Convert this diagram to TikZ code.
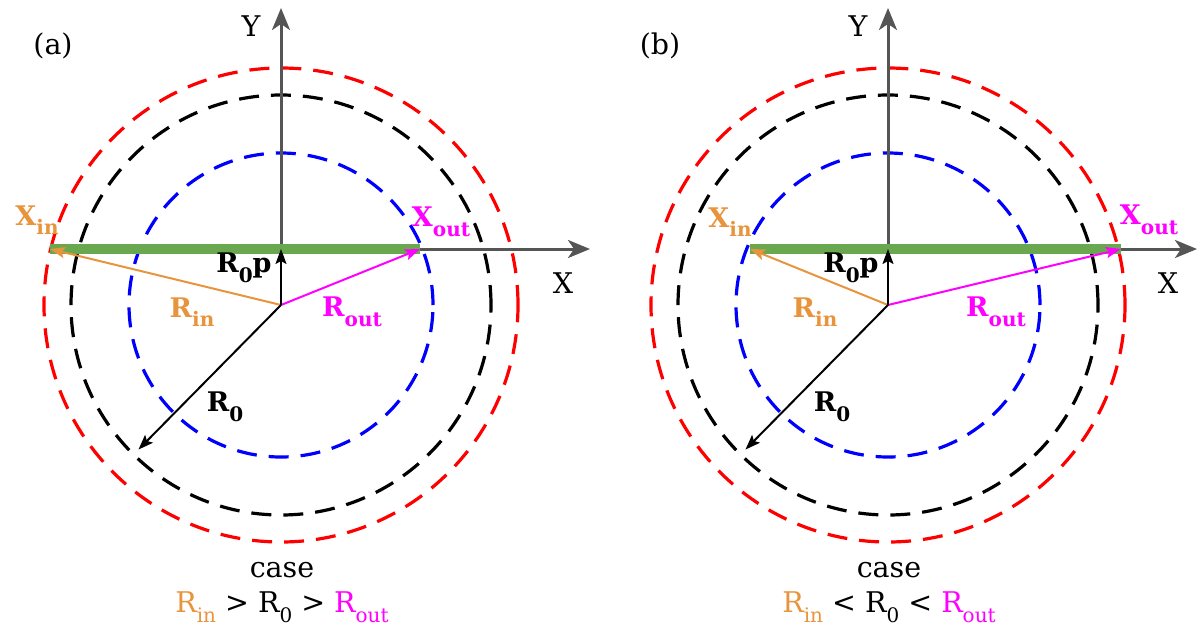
\documentclass[tikz,border=0pt]{standalone}
\usepackage{fontspec}
\setmainfont{DejaVu Serif}
\usetikzlibrary{arrows.meta,calc}
\definecolor{myorange}{RGB}{232,148,60}
\definecolor{mymag}{RGB}{255,0,255}
\definecolor{mygreen}{RGB}{106,168,79}
\definecolor{axgray}{RGB}{85,85,85}
\newcommand\lowsub[1]{\raisebox{-0.35em}{\fontsize{20}{20}\selectfont #1}}
\begin{document}
\begin{tikzpicture}[x=1pt,y=-1pt,
  lab/.style={font=\fontsize{27}{30}\selectfont\bfseries, inner sep=0pt},
  txt/.style={font=\fontsize{28.5}{30}\selectfont, inner sep=0pt},
  ring/.style={line width=3.2pt, dash pattern=on 20pt off 12pt},
  axis/.style={draw=axgray, line width=3pt, -{Stealth[length=22pt,width=18pt,inset=6pt]}},
  vec/.style={line width=2pt, -{Stealth[length=15pt,width=11pt,inset=3pt]}},
  bar/.style={draw=mygreen, line width=10pt}]
\useasboundingbox (0,0) rectangle (1200,638);

% ---------------- panel (a) ----------------
\coordinate (aC) at (281,305);
\coordinate (aP) at (281,249);
\coordinate (aYt) at (281,8);
\coordinate (aXt) at (590,249);
\coordinate (aXin) at (50,249);
\coordinate (aXout) at (420,249);
\coordinate (aR0) at ($(aC)+(225.4:203pt)$);
\draw[ring, red] (aC) circle[radius=237pt];
\draw[ring, black] (aC) circle[radius=210pt];
\draw[ring, blue] (aC) circle[radius=152pt];
\draw[axis] (aP) -- (aYt);
\draw[axis] (aP) -- (aXt);
\draw[bar] (aXin) -- (aXout);
\draw[vec, myorange] (aC) -- (aXin);
\draw[vec, mymag] (aC) -- (aXout);
\draw[vec, black] (aC) -- (aP);
\draw[vec, black] (aC) -- (aR0);
\node[txt] (alab) at (53,46) {(a)};
\node[txt] (aY) at (251,26) {Y};
\node[txt] (aX) at (563,283) {X};
\node[lab, myorange] (aXinl) at (37,220) {X\lowsub{in}};
\node[lab, mymag] (aXoutl) at (441,222) {X\lowsub{out}};
\node[lab] (aR0pl) at (244,268) {R\lowsub{0}p};
\node[lab, myorange] (aRinl) at (192,312) {R\lowsub{in}};
\node[lab, mymag] (aRoutl) at (352,312) {R\lowsub{out}};
\node[lab] (aR0l) at (225,407) {R\lowsub{0}};
\node[txt] (acase) at (282,570) {case};
\node[txt] (arel) at (282,607) {\textcolor{myorange}{R\lowsub{in}} > R\lowsub{0} > \textcolor{mymag}{R\lowsub{out}}};

% ---------------- panel (b) ----------------
\coordinate (bC) at (888,305);
\coordinate (bP) at (888,249);
\coordinate (bYt) at (888,8);
\coordinate (bXt) at (1197,249);
\coordinate (bXin) at (750,249);
\coordinate (bXout) at (1121,249);
\coordinate (bR0) at ($(bC)+(225.4:203pt)$);
\draw[ring, red] (bC) circle[radius=237pt];
\draw[ring, black] (bC) circle[radius=210pt];
\draw[ring, blue] (bC) circle[radius=152pt];
\draw[axis] (bP) -- (bYt);
\draw[axis] (bP) -- (bXt);
\draw[bar] (bXin) -- (bXout);
\draw[vec, myorange] (bC) -- (bXin);
\draw[vec, mymag] (bC) -- (bXout);
\draw[vec, black] (bC) -- (bP);
\draw[vec, black] (bC) -- (bR0);
\node[txt] (blab) at (660,46) {(b)};
\node[txt] (bY) at (858,26) {Y};
\node[txt] (bX) at (1168,283) {X};
\node[lab, myorange] (bXinl) at (730,222) {X\lowsub{in}};
\node[lab, mymag] (bXoutl) at (1149,220) {X\lowsub{out}};
\node[lab] (bR0pl) at (851,268) {R\lowsub{0}p};
\node[lab, myorange] (bRinl) at (815,312) {R\lowsub{in}};
\node[lab, mymag] (bRoutl) at (996,312) {R\lowsub{out}};
\node[lab] (bR0l) at (832,407) {R\lowsub{0}};
\node[txt] (bcase) at (889,570) {case};
\node[txt] (brel) at (889,607) {\textcolor{myorange}{R\lowsub{in}} < R\lowsub{0} < \textcolor{mymag}{R\lowsub{out}}};
\end{tikzpicture}
\end{document}
